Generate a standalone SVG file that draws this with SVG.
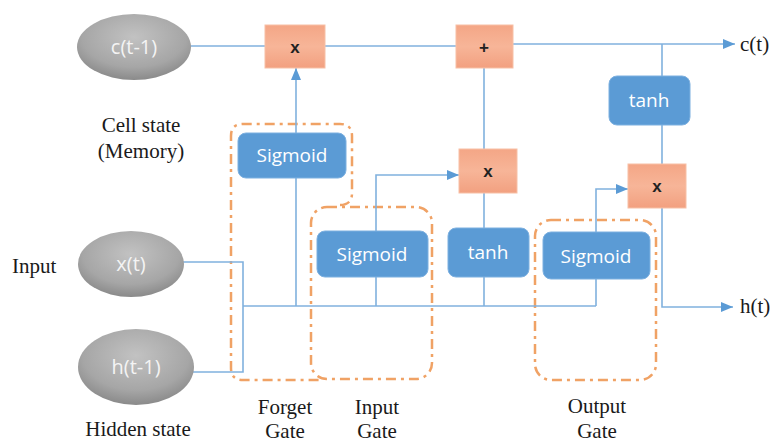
<svg xmlns="http://www.w3.org/2000/svg" width="772" height="444" viewBox="0 0 772 444">
  <defs>
    <radialGradient id="grayBall" cx="0.5" cy="0.35" r="0.65">
      <stop offset="0" stop-color="#c2c2c2"/>
      <stop offset="0.7" stop-color="#a6a6a6"/>
      <stop offset="1" stop-color="#8a8a8a"/>
    </radialGradient>
    <linearGradient id="salmon" x1="0" y1="0" x2="0" y2="1">
      <stop offset="0" stop-color="#f4a686"/>
      <stop offset="0.5" stop-color="#f7b598"/>
      <stop offset="1" stop-color="#f2a080"/>
    </linearGradient>
    <marker id="arrow" viewBox="0 0 12 10" refX="12" refY="5" markerWidth="12" markerHeight="10" markerUnits="userSpaceOnUse" orient="auto">
      <path d="M0,0 L12,5 L0,10 Z" fill="#5b9bd5"/>
    </marker>
    <style>
      .line { fill: none; stroke: #80b1de; stroke-width: 1.6; }
      .ball { fill: url(#grayBall); }
      .ballText { font-family: "Open Sans", "Liberation Sans", sans-serif; font-size: 20px; fill: #f4f4f4; text-anchor: middle; }
      .op { fill: url(#salmon); stroke: #f7c0a6; stroke-width: 1; }
      .opText { font-family: "Liberation Sans", Arial, sans-serif; font-size: 17px; font-weight: bold; fill: #222; text-anchor: middle; }
      .act { fill: #5b9bd5; stroke: #7db0e0; stroke-width: 1; }
      .actText { font-family: "Open Sans", "Liberation Sans", sans-serif; font-size: 19px; fill: #ffffff; text-anchor: middle; }
      .gate { fill: none; stroke: #f0a265; stroke-width: 2.5; stroke-dasharray: 10 5 3 5; }
      .label { font-family: "Liberation Serif", "Times New Roman", serif; font-size: 21px; fill: #1a1a1a; }
      .mid { text-anchor: middle; }
    </style>
  </defs>

  <rect width="772" height="444" fill="#ffffff"/>

  <!-- gate outlines -->
  <g id="forget-gate-outline">
    <path class="gate" d="M340,205 Q352,205 352,193 L352,136 Q352,124 340,124 L243,124 Q231,124 231,136 L231,368 Q231,380 243,380 L322,380"/>
  </g>
  <g id="input-gate-outline">
    <rect class="gate" x="311" y="207" width="121" height="172" rx="16"/>
  </g>
  <g id="output-gate-outline">
    <rect class="gate" x="535" y="220" width="121" height="160" rx="16"/>
  </g>

  <!-- connectors -->
  <g id="connectors">
    <!-- cell state path -->
    <path class="line" d="M190,46 L265,46"/>
    <path class="line" d="M325,46 L456,46"/>
    <path class="line" d="M513,44 L735,44" marker-end="url(#arrow)"/>
    <!-- inputs merge into the bus -->
    <path class="line" d="M183,262 L243,262 L243,372 L190,372"/>
    <path class="line" d="M243,306 L596,306"/>
    <!-- forget gate -->
    <path class="line" d="M296,306 L296,68" marker-end="url(#arrow)"/>
    <!-- input gate -->
    <path class="line" d="M376,306 L376,175 L459,175" marker-end="url(#arrow)"/>
    <path class="line" d="M484,306 L484,193"/>
    <path class="line" d="M484,149 L484,68"/>
    <!-- output gate -->
    <path class="line" d="M596,306 L596,189 L628,189" marker-end="url(#arrow)"/>
    <path class="line" d="M662,44 L662,164"/>
    <path class="line" d="M662,208 L662,307 L733,307" marker-end="url(#arrow)"/>
  </g>

  <!-- state inputs -->
  <g id="c-prev">
    <ellipse class="ball" cx="134" cy="47" rx="57" ry="33"/>
    <text class="ballText" x="134" y="54">c(t-1)</text>
  </g>
  <g id="x-t">
    <ellipse class="ball" cx="131" cy="264" rx="53" ry="33"/>
    <text class="ballText" x="131" y="271">x(t)</text>
  </g>
  <g id="h-prev">
    <ellipse class="ball" cx="136" cy="367" rx="58" ry="38"/>
    <text class="ballText" x="136" y="374">h(t-1)</text>
  </g>

  <!-- pointwise operations -->
  <g id="forget-mult">
    <rect class="op" x="265" y="25" width="60" height="43"/>
    <text class="opText" x="295" y="53">x</text>
  </g>
  <g id="cell-add">
    <rect class="op" x="456" y="25" width="57" height="43"/>
    <text class="opText" x="484" y="53">+</text>
  </g>
  <g id="input-mult">
    <rect class="op" x="459" y="149" width="58" height="44"/>
    <text class="opText" x="488" y="177">x</text>
  </g>
  <g id="output-mult">
    <rect class="op" x="628" y="164" width="58" height="44"/>
    <text class="opText" x="657" y="192">x</text>
  </g>

  <!-- activation layers -->
  <g id="forget-sigmoid">
    <rect class="act" x="238" y="133" width="108" height="45" rx="8"/>
    <text class="actText" x="292" y="162">Sigmoid</text>
  </g>
  <g id="input-sigmoid">
    <rect class="act" x="317" y="231" width="111" height="46" rx="8"/>
    <text class="actText" x="372" y="261">Sigmoid</text>
  </g>
  <g id="candidate-tanh">
    <rect class="act" x="448" y="228" width="81" height="49" rx="8"/>
    <text class="actText" x="488" y="259">tanh</text>
  </g>
  <g id="output-sigmoid">
    <rect class="act" x="543" y="232" width="107" height="47" rx="8"/>
    <text class="actText" x="596" y="263">Sigmoid</text>
  </g>
  <g id="cell-tanh">
    <rect class="act" x="609" y="76" width="81" height="49" rx="8"/>
    <text class="actText" x="649" y="107">tanh</text>
  </g>

  <!-- labels -->
  <g id="labels">
    <text class="label mid" x="141" y="132">Cell state</text>
    <text class="label mid" x="141" y="158">(Memory)</text>
    <text class="label" x="12" y="273">Input</text>
    <text class="label mid" x="138" y="436">Hidden state</text>
    <text class="label mid" x="285" y="414">Forget</text>
    <text class="label mid" x="285" y="438">Gate</text>
    <text class="label mid" x="377" y="414">Input</text>
    <text class="label mid" x="377" y="438">Gate</text>
    <text class="label mid" x="597" y="413">Output</text>
    <text class="label mid" x="597" y="438">Gate</text>
    <text class="label" x="740" y="51">c(t)</text>
    <text class="label" x="740" y="313">h(t)</text>
  </g>
</svg>
